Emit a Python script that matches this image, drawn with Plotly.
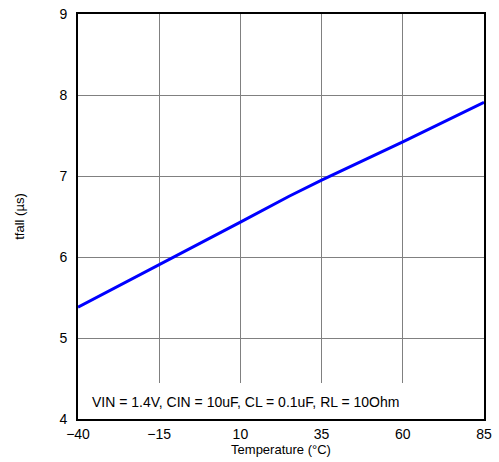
import plotly.graph_objects as go

temperature = [-40, -15, 10, 25, 35, 60, 85]
tfall_us = [5.38, 5.90, 6.43, 6.75, 6.95, 7.42, 7.91]
x_ticks = [-40, -15, 10, 35, 60, 85]
y_ticks = [4, 5, 6, 7, 8, 9]
note = "VIN = 1.4V, CIN = 10uF, CL = 0.1uF, RL = 10Ohm"

FONT = "Liberation Sans, Arial, sans-serif"

fig = go.Figure()
fig.add_trace(go.Scatter(x=temperature, y=tfall_us, mode="lines",
                         line=dict(color="#0000ff", width=3), showlegend=False))

fig.add_shape(type="rect", xref="x", yref="y", x0=-40, x1=85, y0=4, y1=4.445,
              fillcolor="white", line=dict(width=0), layer="between")
fig.add_annotation(x=-40, y=4.21, xref="x", yref="y", text=note, showarrow=False,
                   xanchor="left", xshift=12, font=dict(family=FONT, size=14, color="black"))

axis_common = dict(showgrid=True, gridcolor="#808080", gridwidth=1,
                   showline=True, linecolor="black", linewidth=2, mirror=True,
                   ticks="", zeroline=False, automargin=False,
                   tickfont=dict(family=FONT, size=14, color="black"))

fig.update_xaxes(range=[-40, 85], tickvals=x_ticks, ticklabelstandoff=1,
                 title=dict(text="Temperature (°C)", font=dict(family=FONT, size=13, color="black"), standoff=4),
                 **axis_common)
fig.update_yaxes(range=[4, 9], tickvals=y_ticks, ticklabelstandoff=6,
                 title=dict(text="tfall (µs)", font=dict(family=FONT, size=13, color="black"), standoff=32),
                 **axis_common)

fig.update_layout(width=499, height=462, margin=dict(l=78, r=15, t=14, b=43),
                  plot_bgcolor="white", paper_bgcolor="white",
                  font=dict(family=FONT, color="black"))

fig.write_html("out.html", config={"displayModeBar": False},
               post_script="document.body.style.margin='0';document.body.style.padding='0';")
